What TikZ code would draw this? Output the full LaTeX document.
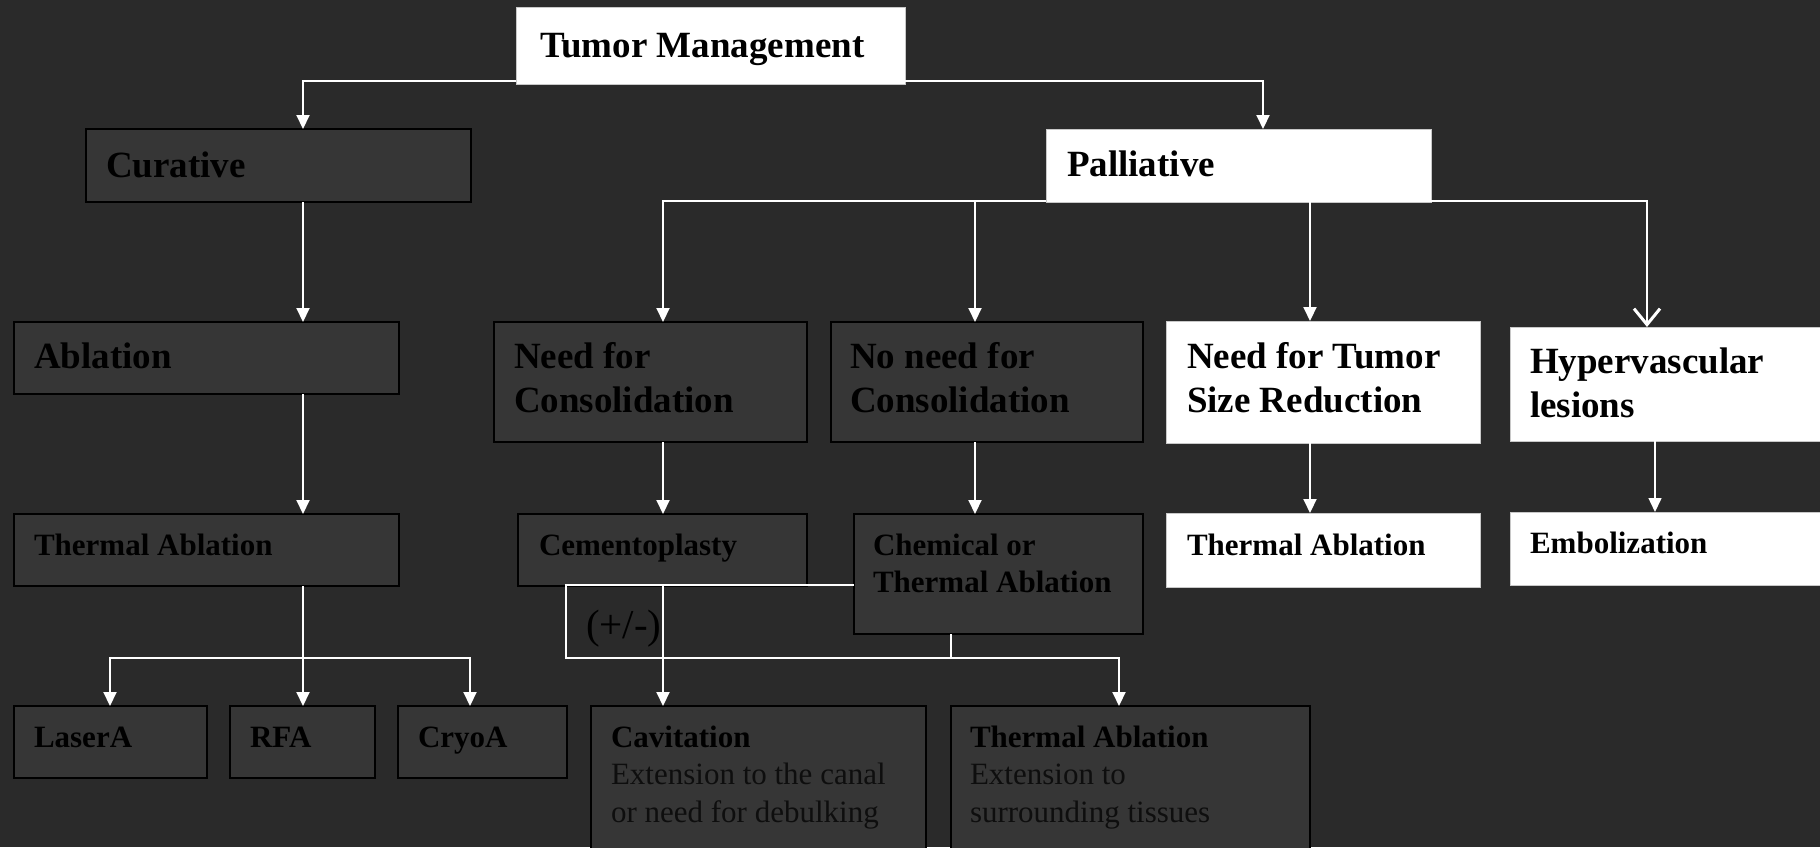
\documentclass[tikz,border=0pt]{standalone}
\usepackage{fontspec}
\setmainfont{Liberation Serif}
\usetikzlibrary{arrows.meta}
\definecolor{bg}{RGB}{42,42,42}
\definecolor{boxfill}{RGB}{54,54,54}
\definecolor{wborder}{RGB}{200,200,200}
\definecolor{subtext}{RGB}{14,14,14}
\tikzset{
  darkbox/.style={draw=black, line width=2pt, fill=boxfill, inner sep=0pt, outer sep=0pt, anchor=north west},
  whitebox/.style={draw=wborder, line width=1pt, fill=white, inner sep=0pt, outer sep=0pt, anchor=north west},
  lbl/.style={inner sep=0pt, outer sep=0pt, anchor=north west, align=left, text=black},
  conn/.style={draw=white, line width=2pt},
  arr/.style={conn, -{Triangle[length=14pt,width=13pt]}},
  varr/.style={conn, -{Straight Barb[length=16pt,width=26pt,line width=3pt]}},
}
\newcommand\Bx[6]{\node[#6, minimum width=#4pt-#2pt, minimum height=#5pt-#3pt] (#1) at (#2,#3) {};}
\newcommand\Tx[6]{\node[lbl, font=#5] (#1) at (#2,#3-#4) {\rule{0pt}{#4pt}#6};}
\newcommand\fBig{\fontsize{37}{44}\selectfont\bfseries}
\newcommand\fSmall{\fontsize{31}{37.5}\selectfont}
\begin{document}
\begin{tikzpicture}[x=1pt,y=-1pt]
\useasboundingbox (0,0) rectangle (1820,847);
\fill[bg] (0,0) rectangle (1820,847);
\clip (0,0) rectangle (1820,847);
% boxes
\Bx{tm}{516}{7}{905}{84}{whitebox}
\Bx{cur}{86}{129}{471}{202}{darkbox}
\Bx{pal}{1046}{129}{1431}{202}{whitebox}
\Bx{abl}{14}{322}{399}{394}{darkbox}
\Bx{nfc}{494}{322}{807}{442}{darkbox}
\Bx{nnc}{831}{322}{1143}{442}{darkbox}
\Bx{ntsr}{1166}{321}{1480}{443}{whitebox}
\Bx{hyp}{1510}{327}{1830}{441}{whitebox}
\Bx{ta1}{14}{514}{399}{586}{darkbox}
\Bx{cem}{518}{514}{807}{586}{darkbox}
\Bx{chem}{854}{514}{1143}{634}{darkbox}
\Bx{ta2}{1166}{513}{1480}{587}{whitebox}
\Bx{emb}{1510}{512}{1830}{585}{whitebox}
\Bx{las}{14}{706}{207}{778}{darkbox}
\Bx{rfa}{230}{706}{375}{778}{darkbox}
\Bx{cry}{398}{706}{567}{778}{darkbox}
\Bx{cav}{591}{706}{926}{870}{darkbox}
\Bx{ta3}{951}{706}{1310}{870}{darkbox}
% texts
\Tx{tmt}{540}{57}{37}{\fBig}{Tumor Management}
\Tx{curt}{106}{177}{37}{\fBig}{Curative}
\Tx{palt}{1067}{176}{37}{\fBig}{Palliative}
\Tx{ablt}{34}{368}{37}{\fBig}{Ablation}
\Tx{nfct}{514}{368}{37}{\fBig}{Need for\\Consolidation}
\Tx{nnct}{850}{368}{37}{\fBig}{No need for\\Consolidation}
\Tx{ntsrt}{1187}{368}{37}{\fBig}{Need for Tumor\\Size Reduction}
\Tx{hypt}{1530}{373}{37}{\fBig}{Hypervascular\\lesions}
\Tx{ta1t}{34}{555}{31}{\fSmall\bfseries}{Thermal Ablation}
\Tx{cemt}{539}{555}{31}{\fSmall\bfseries}{Cementoplasty}
\Tx{chemt}{873}{555}{31}{\fSmall\bfseries}{Chemical or\\Thermal Ablation}
\Tx{ta2t}{1187}{555}{31}{\fSmall\bfseries}{Thermal Ablation}
\Tx{embt}{1530}{553}{31}{\fSmall\bfseries}{Embolization}
\Tx{last}{34}{747}{31}{\fSmall\bfseries}{LaserA}
\Tx{rfat}{250}{747}{31}{\fSmall\bfseries}{RFA}
\Tx{cryt}{418}{747}{31}{\fSmall\bfseries}{CryoA}
\Tx{cavt}{611}{747}{31}{\fSmall}{{\bfseries Cavitation}\\{\color{subtext}Extension to the canal}\\{\color{subtext}or need for debulking}}
\Tx{ta3t}{970}{747}{31}{\fSmall}{{\bfseries Thermal Ablation}\\{\color{subtext}Extension to}\\{\color{subtext}surrounding tissues}}
\Tx{pm}{586}{638}{41}{\fontsize{41}{48}\selectfont}{(+/-)}
% connectors
\coordinate (jtl) at (303,81);
\coordinate (jtr) at (1263,81);
\draw[arr] (tm.west |- jtl) -- (jtl) -- (cur.north -| jtl);
\draw[arr] (tm.east |- jtr) -- (jtr) -- (pal.north -| jtr);
\draw[arr] (cur.south -| jtl) -- (abl.north -| jtl);
\draw[arr] (abl.south -| jtl) -- (ta1.north -| jtl);
\coordinate (ja) at (303,658);
\coordinate (jal) at (110,658);
\coordinate (jar) at (470,658);
\draw[arr] (ta1.south -| ja) -- (rfa.north -| ja);
\draw[arr] (ja) -| (las.north -| jal);
\draw[arr] (ja) -| (cry.north -| jar);
\coordinate (p1) at (663,201);
\coordinate (p2) at (975,201);
\coordinate (p3) at (1310,201);
\coordinate (p4) at (1647,201);
\coordinate (p5) at (1655,201);
\draw[arr] (pal.west |- p1) -| (nfc.north -| p1);
\draw[arr] (p2) -- (nnc.north -| p2);
\draw[arr] (pal.south -| p3) -- (ntsr.north -| p3);
\draw[varr] (pal.east |- p4) -| (hyp.north -| p4);
\draw[arr] (nfc.south -| p1) -- (cem.north -| p1);
\draw[arr] (nnc.south -| p2) -- (chem.north -| p2);
\draw[arr] (ntsr.south -| p3) -- (ta2.north -| p3);
\draw[arr, line width=1.5pt] (hyp.south -| p5) -- (emb.north -| p5);
\draw[arr] (cem.south -| p1) -- (cav.north -| p1);
\coordinate (q1) at (566,585);
\coordinate (q2) at (566,658);
\coordinate (q3) at (1119,658);
\coordinate (q4) at (951,658);
\draw[arr] (chem.west |- q1) -- (q1) -- (q2) -| (ta3.north -| q3);
\draw[conn] (chem.south -| q4) -- (q4);
\end{tikzpicture}
\end{document}
